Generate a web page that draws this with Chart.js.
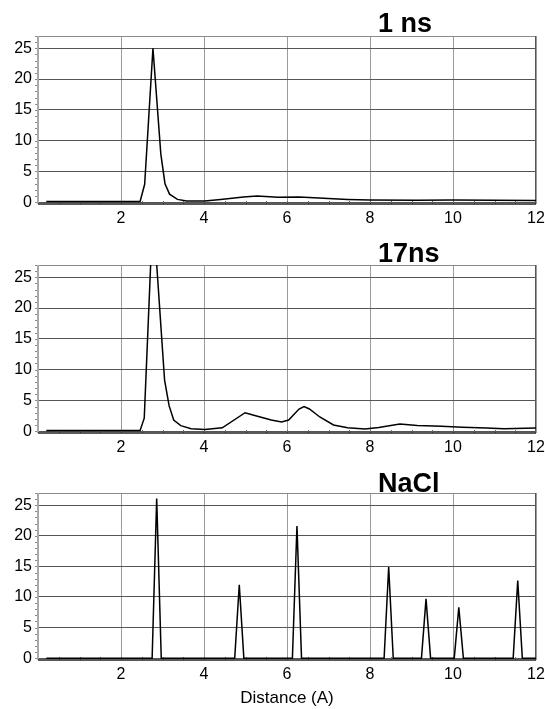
<!DOCTYPE html>
<html>
<head>
<meta charset="utf-8">
<script src="https://cdn.jsdelivr.net/npm/chart.js@4.4.1/dist/chart.umd.min.js"></script>
<style>
  body { margin: 0; background: #fff; }
  #page { position: relative; width: 545px; height: 709px; overflow: hidden; background: #fff; }
  .panel { position: absolute; left: 0; width: 545px; }
  .ttl { position: absolute; left: 378px; font: bold 27px/27px "Liberation Sans", Arial, sans-serif; color: #000; z-index: 2; }
</style>
</head>
<body>
<div id="page">
  <div class="panel" style="top:0;height:228px"><canvas id="c1"></canvas><div class="ttl" id="t1" style="top:10px"></div></div>
  <div class="panel" style="top:229px;height:228px"><canvas id="c2"></canvas><div class="ttl" id="t2" style="top:11px"></div></div>
  <div class="panel" style="top:457px;height:252px"><canvas id="c3"></canvas><div class="ttl" id="t3" style="top:13px"></div></div>
</div>
<script>
const TITLES = ["1 ns", "17ns", "NaCl"];
const X_LABEL = "Distance (A)";
const X_TICKS = [2, 4, 6, 8, 10, 12];
const Y_TICKS = [0, 5, 10, 15, 20, 25];

// 1 ns
const ns1X = [0.2, 2.46, 2.57, 2.77, 2.96, 3.06, 3.17, 3.36, 3.58, 4.02, 4.4, 4.95, 5.28, 5.78, 6.29, 6.65, 7.46, 8.0, 9.14, 10.0, 12];
const ns1Y = [0.1, 0.1, 2.9, 25, 7.8, 3.0, 1.3, 0.45, 0.2, 0.2, 0.45, 0.85, 1.0, 0.8, 0.85, 0.7, 0.45, 0.35, 0.3, 0.35, 0.25];

// 17 ns
const ns17X = [0.2, 2.46, 2.56, 2.77, 3.05, 3.16, 3.27, 3.44, 3.69, 4.02, 4.44, 4.99, 5.2, 5.62, 5.87, 6.04, 6.29, 6.41, 6.54, 6.79, 7.12, 7.46, 7.88, 8.21, 8.72, 9.14, 9.72, 10.23, 10.81, 11.23, 12];
const ns17Y = [0.1, 0.1, 2.1, 36, 8.3, 4.1, 1.8, 0.9, 0.4, 0.25, 0.55, 3.0, 2.6, 1.8, 1.5, 1.8, 3.6, 4.0, 3.6, 2.3, 1.0, 0.55, 0.35, 0.6, 1.15, 0.9, 0.8, 0.65, 0.5, 0.4, 0.5];

// NaCl crystal
const naclX = [0.2, 2.75, 2.86, 2.97, 4.74, 4.85, 4.96, 6.13, 6.24, 6.35, 8.34, 8.45, 8.56, 9.24, 9.35, 9.46, 10.03, 10.14, 10.25, 11.45, 11.56, 11.67, 12];
const naclY = [0, 0, 26.1, 0, 0, 12.0, 0, 0, 21.6, 0, 0, 14.9, 0, 0, 9.7, 0, 0, 8.3, 0, 0, 12.7, 0, 0];

Chart.defaults.font.family = '"Liberation Sans", Arial, sans-serif';
Chart.defaults.color = "#000";

// plot frame + small minor ticks
const framePlugin = {
  id: "frame",
  beforeDatasetsDraw(chart) {
    const { ctx, chartArea: a, scales } = chart;
    ctx.save();
    ctx.lineWidth = 1;
    const line = (x1, y1, x2, y2, c) => {
      ctx.strokeStyle = c;
      ctx.beginPath();
      ctx.moveTo(x1, y1);
      ctx.lineTo(x2, y2);
      ctx.stroke();
    };
    for (let v = 0; v <= 27; v++) {
      const py = Math.round(scales.y.getPixelForValue(v)) + 0.5;
      line(a.left - 3, py, a.left, py, "#888");
    }
    for (let v = 0.5; v < 12; v += 0.5) {
      const px = Math.round(scales.x.getPixelForValue(v)) + 0.5;
      line(px, a.bottom, px, a.bottom - 3, "#666");
    }
    line(a.left, a.top + 0.5, a.right, a.top + 0.5, "#8a8a8a");
    line(a.right - 0.5, a.top, a.right - 0.5, a.bottom, "#555");
    ctx.lineWidth = 2;
    line(a.left, a.top, a.left, a.bottom, "#a8a8a8");
    ctx.lineWidth = 1.5;
    line(a.left, a.bottom, a.right, a.bottom, "#222");
    ctx.restore();
  }
};

function makeChart(id, xs, ys, showTitle) {
  const pts = xs.map((x, i) => ({ x: x, y: ys[i] }));
  return new Chart(document.getElementById(id), {
    type: "line",
    data: {
      datasets: [{ data: pts, borderColor: "#000", borderWidth: 1.5, pointRadius: 0, tension: 0, fill: false }]
    },
    options: {
      responsive: true,
      maintainAspectRatio: false,
      animation: false,
      layout: { padding: { top: 36, right: 9, left: 0, bottom: 0 } },
      plugins: { legend: { display: false }, tooltip: { enabled: false } },
      scales: {
        x: {
          type: "linear", min: 0, max: 12,
          afterBuildTicks: s => { s.ticks = X_TICKS.map(v => ({ value: v })); },
          afterFit: s => {
            s.height = showTitle ? 49 : 24;
            s.paddingRight = 0;
            s.paddingLeft = 0;
          },
          grid: { color: "#9a9a9a", drawTicks: false },
          border: { display: false },
          ticks: { padding: 5, font: { size: 16 }, maxRotation: 0 },
          title: { display: showTitle, text: X_LABEL, font: { size: 17 }, padding: 0 }
        },
        y: {
          min: -0.3, max: 27,
          afterBuildTicks: s => { s.ticks = Y_TICKS.map(v => ({ value: v })); },
          afterFit: s => { s.width = 38; },
          grid: { color: "#555", drawTicks: false },
          border: { display: false },
          ticks: { padding: 6, font: { size: 16 } }
        }
      }
    },
    plugins: [framePlugin]
  });
}

document.getElementById("t1").textContent = TITLES[0];
document.getElementById("t2").textContent = TITLES[1];
document.getElementById("t3").textContent = TITLES[2];

makeChart("c1", ns1X, ns1Y, false);
makeChart("c2", ns17X, ns17Y, false);
makeChart("c3", naclX, naclY, true);
</script>
</body>
</html>
